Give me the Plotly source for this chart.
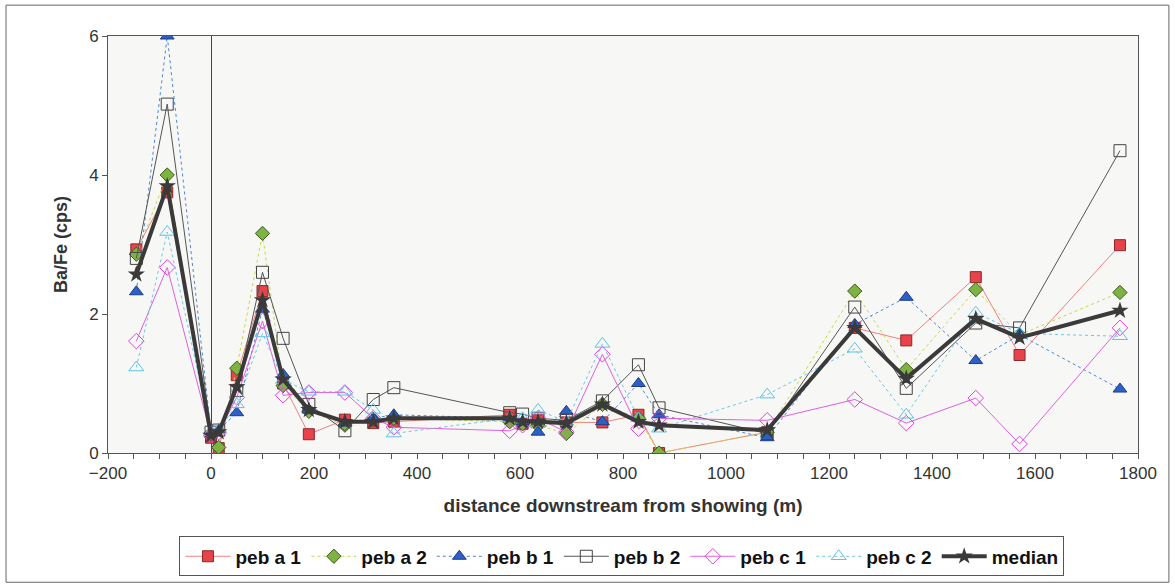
import plotly.graph_objects as go

# distance downstream from showing (m)
distance = [-145, -85, 0, 15, 50, 100, 140, 190, 260, 315, 355, 580, 605, 635,
            690, 760, 830, 870, 1080, 1250, 1350, 1485, 1570, 1765]

peb_a1 = [2.93, 3.75, 0.22, 0.07, 1.12, 2.33, 1.00, 0.27, 0.48, 0.43, 0.45, 0.55,
          0.42, 0.47, 0.44, 0.44, 0.55, 0.00, 0.30, 1.80, 1.62, 2.53, 1.41, 2.99]
peb_a2 = [2.86, 4.00, 0.28, 0.08, 1.22, 3.16, 0.97, 0.60, 0.40, 0.48, 0.50, 0.45,
          0.42, 0.40, 0.28, 0.70, 0.50, 0.00, 0.30, 2.33, 1.20, 2.35, 1.70, 2.31]
peb_b1 = [2.32, 6.00, 0.30, 0.33, 0.58, 2.07, 1.13, 0.62, 0.43, 0.50, 0.55, 0.50,
          0.45, 0.30, 0.60, 0.45, 1.00, 0.55, 0.22, 1.85, 2.24, 1.33, 1.70, 0.92]
peb_b2 = [2.80, 5.02, 0.30, 0.33, 0.90, 2.60, 1.65, 0.70, 0.32, 0.77, 0.94, 0.58,
          0.56, 0.50, 0.47, 0.75, 1.27, 0.65, 0.28, 2.10, 0.93, 1.87, 1.80, 4.35]
peb_c1 = [1.61, 2.67, 0.25, 0.30, 0.80, 1.90, 0.83, 0.87, 0.87, 0.50, 0.37, 0.32,
          0.40, 0.50, 0.30, 1.42, 0.35, 0.50, 0.47, 0.77, 0.43, 0.79, 0.13, 1.80]
peb_c2 = [1.23, 3.18, 0.30, 0.33, 0.70, 1.72, 1.05, 0.88, 0.88, 0.62, 0.28, 0.50,
          0.50, 0.62, 0.45, 1.57, 0.50, 0.35, 0.84, 1.50, 0.55, 2.02, 1.72, 1.68]
median = [2.57, 3.84, 0.25, 0.30, 0.95, 2.20, 1.06, 0.62, 0.45, 0.45, 0.50, 0.50,
          0.45, 0.45, 0.43, 0.70, 0.45, 0.40, 0.33, 1.80, 1.07, 1.93, 1.66, 2.05]

FONT = "Liberation Sans, Arial, sans-serif"

series = [
    ("peb a 1", peb_a1, dict(symbol="square", size=11, color="#e8434b",
                             line=dict(color="#8a2a2a", width=1)),
     dict(color="#f08080", width=1)),
    ("peb a 2", peb_a2, dict(symbol="diamond", size=11, color="#7cb342",
                             line=dict(color="#3d5a1e", width=1)),
     dict(color="#c5d94a", width=1, dash="dot")),
    ("peb b 1", peb_b1, dict(symbol="triangle-up", size=12, color="#2e5fc7",
                             line=dict(color="#1d3d85", width=1)),
     dict(color="#4f86d6", width=1, dash="dot")),
    ("peb b 2", peb_b2, dict(symbol="square-open", size=12, color="#444444",
                             line=dict(width=1)),
     dict(color="#555555", width=1)),
    ("peb c 1", peb_c1, dict(symbol="diamond-open", size=12, color="#e040e0",
                             line=dict(width=1)),
     dict(color="#e060e0", width=1)),
    ("peb c 2", peb_c2, dict(symbol="triangle-up-open", size=13, color="#5ec3e6",
                             line=dict(width=1)),
     dict(color="#6cc6e8", width=1, dash="dot")),
]

fig = go.Figure()
for name, ys, marker, line in series:
    fig.add_trace(go.Scatter(x=distance, y=ys, name=name, mode="lines+markers",
                             marker=marker, line=line))

fig.add_trace(go.Scatter(x=distance, y=median, name="median", mode="lines+markers",
                         marker=dict(symbol="star", size=13, color="#3a3a3a"),
                         line=dict(color="#3a3a3a", width=4)))

fig.update_layout(
    width=1175, height=588,
    margin=dict(l=108, r=37, t=36, b=132),
    paper_bgcolor="white",
    plot_bgcolor="#f7f7f5",
    font=dict(family=FONT, size=17, color="#333333"),
    showlegend=True,
    legend=dict(orientation="h", x=0.499, xanchor="center", y=-0.2, yanchor="top",
                bgcolor="white", bordercolor="#555555", borderwidth=1,
                font=dict(family=FONT, size=19, color="#111111", weight="bold"),
                itemwidth=45, tracegroupgap=0),
    shapes=[dict(type="rect", xref="paper", yref="paper",
                 x0=-0.099, x1=1.03, y0=-0.31, y1=1.074,
                 line=dict(color="#666666", width=1))],
)

fig.update_xaxes(
    range=[-200, 1800], dtick=200, tick0=0, automargin=False,
    showgrid=False, zeroline=True, zerolinecolor="#444444", zerolinewidth=1,
    showline=True, linecolor="#555555", linewidth=1, mirror=True,
    ticks="outside", ticklen=5, tickcolor="#555555",
    minor=dict(dtick=50, ticks="outside", ticklen=5, tickcolor="#555555"),
    tickfont=dict(size=17, color="#333333"),
    title=dict(text="distance downstream from showing (m)", standoff=16,
               font=dict(size=19, color="#333333", weight="bold")),
)
fig.update_yaxes(
    range=[0, 6], dtick=2, automargin=False,
    showgrid=False, zeroline=False,
    showline=True, linecolor="#555555", linewidth=1, mirror=True,
    ticks="outside", ticklen=5, tickcolor="#555555",
    tickfont=dict(size=17, color="#333333"),
    title=dict(text="Ba/Fe (cps)", standoff=16,
               font=dict(size=18, color="#333333", weight="bold")),
)

fig.write_html("out.html")
